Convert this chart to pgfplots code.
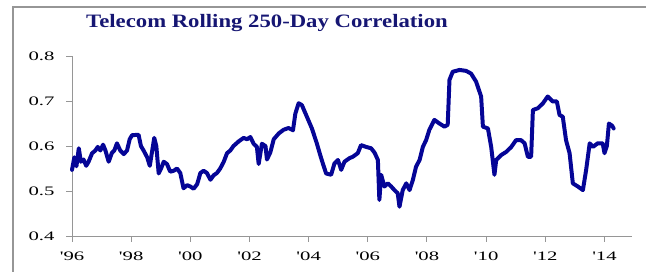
\documentclass[border=0pt]{standalone}
\usepackage{fontspec}
\setmainfont{Liberation Serif}
\newfontfamily\tickfont{Liberation Serif}[FakeStretch=1.6]
\newfontfamily\titlefont{Liberation Serif}[FakeStretch=1.2]
\usepackage{pgfplots}
\pgfplotsset{compat=1.18}
\definecolor{linecol}{RGB}{5,5,150}
\definecolor{titlecol}{RGB}{22,22,115}
\definecolor{axgray}{RGB}{150,150,150}
\begin{document}
\begin{tikzpicture}
\useasboundingbox (0,0) rectangle (646bp,272bp);
\draw[axgray, line width=1.3pt] (13bp,0) -- (13bp,265bp) -- (646bp,265bp);
\node[anchor=base, text=titlecol, font={\titlefont\bfseries\fontsize{19}{22}\selectfont}] at (267bp,244bp) {Telecom Rolling 250-Day Correlation};
\begin{axis}[
  at={(72bp,36bp)}, anchor=south west,
  scale only axis, width=560bp, height=180bp,
  xmin=1996, xmax=2014.93, ymin=0.4, ymax=0.8,
  axis lines=left,
  axis line style={-, axgray, line width=1pt},
  tick style={axgray, line width=1pt},
  tick align=outside,
  major tick length=6bp,
  xtick={1996,1998,2000,2002,2004,2006,2008,2010,2012,2014},
  xticklabels={'96,'98,'00,'02,'04,'06,'08,'10,'12,'14},
  ytick={0.4,0.5,0.6,0.7,0.8},
  yticklabels={0.4,0.5,0.6,0.7,0.8},
  ticklabel style={font={\tickfont\fontsize{13}{15}\selectfont}, text=black},
  xticklabel style={yshift=-6bp},
  yticklabel style={xshift=-8bp},
  clip=false,
]
\addplot[linecol, line width=4pt, line join=round, line cap=round] coordinates {
(1996.00,0.547) (1996.08,0.575) (1996.15,0.555) (1996.23,0.595) (1996.30,0.565)
(1996.39,0.570) (1996.48,0.556) (1996.56,0.565) (1996.68,0.584) (1996.79,0.590)
(1996.87,0.598) (1996.96,0.590) (1997.05,0.603) (1997.13,0.590) (1997.24,0.565)
(1997.35,0.585) (1997.43,0.590) (1997.52,0.606) (1997.63,0.590) (1997.75,0.582)
(1997.86,0.590) (1997.95,0.615) (1998.03,0.624) (1998.25,0.625) (1998.33,0.600)
(1998.42,0.590) (1998.54,0.575) (1998.63,0.556) (1998.70,0.585) (1998.78,0.618)
(1998.85,0.600) (1998.93,0.539) (1999.01,0.550) (1999.10,0.565) (1999.21,0.560)
(1999.32,0.543) (1999.44,0.545) (1999.55,0.550) (1999.66,0.540) (1999.77,0.506)
(1999.89,0.513) (2000.00,0.510) (2000.11,0.505) (2000.23,0.515) (2000.34,0.540)
(2000.45,0.545) (2000.56,0.540) (2000.68,0.525) (2000.79,0.535) (2000.90,0.540)
(2001.01,0.550) (2001.13,0.565) (2001.24,0.584) (2001.35,0.590) (2001.46,0.600)
(2001.63,0.610) (2001.80,0.618) (2001.92,0.615) (2002.03,0.620) (2002.14,0.605)
(2002.25,0.598) (2002.31,0.560) (2002.42,0.605) (2002.54,0.600) (2002.59,0.570)
(2002.70,0.585) (2002.82,0.615) (2002.99,0.628) (2003.15,0.636) (2003.32,0.640)
(2003.47,0.635) (2003.55,0.672) (2003.66,0.695) (2003.77,0.691) (2003.94,0.665)
(2004.11,0.639) (2004.28,0.605) (2004.39,0.580) (2004.48,0.561) (2004.59,0.539)
(2004.76,0.536) (2004.87,0.561) (2004.99,0.569) (2005.10,0.547) (2005.21,0.565)
(2005.38,0.573) (2005.49,0.576) (2005.66,0.584) (2005.77,0.602) (2005.94,0.598)
(2006.11,0.595) (2006.23,0.585) (2006.34,0.569) (2006.39,0.480) (2006.45,0.536)
(2006.56,0.510) (2006.68,0.517) (2006.79,0.510) (2006.90,0.502) (2007.01,0.495)
(2007.07,0.465) (2007.18,0.502) (2007.30,0.517) (2007.41,0.502) (2007.52,0.524)
(2007.63,0.554) (2007.75,0.569) (2007.86,0.598) (2007.97,0.613) (2008.08,0.636)
(2008.25,0.658) (2008.42,0.650) (2008.59,0.643) (2008.70,0.647) (2008.76,0.747)
(2008.87,0.765) (2009.10,0.769) (2009.32,0.767) (2009.49,0.761) (2009.66,0.743)
(2009.83,0.710) (2009.89,0.643) (2010.06,0.639) (2010.17,0.598) (2010.28,0.536)
(2010.34,0.569) (2010.51,0.580) (2010.68,0.587) (2010.85,0.598) (2011.01,0.613)
(2011.18,0.613) (2011.30,0.606) (2011.41,0.576) (2011.52,0.576) (2011.58,0.680)
(2011.75,0.684) (2011.92,0.695) (2012.08,0.710) (2012.25,0.699) (2012.39,0.699)
(2012.48,0.669) (2012.59,0.665) (2012.70,0.613) (2012.82,0.584) (2012.93,0.517)
(2013.10,0.510) (2013.27,0.502) (2013.38,0.547) (2013.50,0.606) (2013.61,0.598)
(2013.77,0.606) (2013.94,0.606) (2014.00,0.584) (2014.08,0.600) (2014.15,0.650)
(2014.26,0.645) (2014.31,0.639)
};
\end{axis}
\end{tikzpicture}
\end{document}
